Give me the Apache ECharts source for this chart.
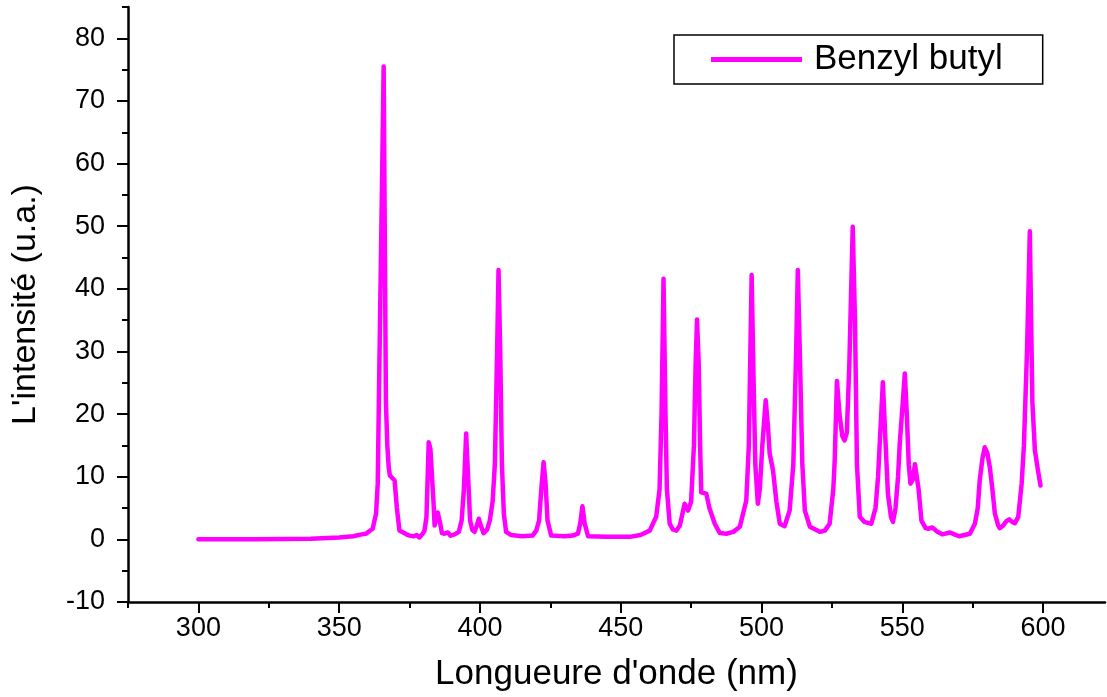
<!DOCTYPE html>
<html>
<head>
<meta charset="utf-8">
<script src="https://cdn.jsdelivr.net/npm/echarts@6/dist/echarts.min.js"></script>
<style>
  html, body { margin: 0; padding: 0; background: #fff; }
  #chart { width: 1107px; height: 697px; }
</style>
</head>
<body>
<div id="chart"></div>
<script>
// Emission spectrum of benzyl butyl: wavelength (nm) and intensity (a.u.)
const wavelengths = [
  300, 320, 340, 350, 355, 358, 359.5, 361.9, 363.1, 363.7, 364.1, 365.0, 365.8,
  366.6, 367.1, 367.6, 368.0, 368.6, 369.7, 370.5, 371.4, 373.9, 375.0, 376.5, 377.5, 378.5, 379.5,
  380.3, 381.0, 381.8, 382.4, 383.0, 383.5, 383.9, 384.5, 385.0, 385.4, 385.9, 386.5, 387.4, 388.6,
  389.5, 391.0, 392.5, 393.5, 394.3, 395.1, 395.8, 396.5, 397.3, 398.1, 398.9, 399.6, 400.3, 401.3,
  402.5, 403.5, 404.5, 405.3, 406.1, 406.6, 407.2, 407.8, 408.5, 409.3, 411, 415, 418.7, 420, 421,
  421.8, 422.6, 423.3, 424, 425.3, 430, 433, 434.8, 435.6, 436.4, 437.2, 438.4, 445, 453.2, 457,
  460.3, 462.6, 463.8, 464.5, 465.2, 465.9, 466.4, 467.4, 468.5, 469.8, 471, 472.7, 473.9, 475,
  476, 476.6, 477.1, 477.7, 478.2, 478.6, 480.4, 481.5, 483.4, 485.2, 487.5, 490, 492.3, 494.6,
  495.5, 496.5, 497.2, 497.8, 498.7, 499.4, 500.3, 501.5, 502.3, 502.9, 504.1, 505.3, 506.5, 508.2,
  510, 511.3, 512.3, 512.9, 513.6, 514.5, 515.4, 517.2, 520.7, 522.5, 524.2, 525.5, 526, 526.8,
  527.7, 528.7, 529.5, 530.3, 531.2, 532.4, 533.2, 533.9, 534.9, 536.5, 539, 540.5, 541.4, 542.3,
  543.1, 543.9, 544.9, 546, 546.7, 547.6, 548.5, 549.1, 550.2, 550.9, 551.6, 552.3, 552.9, 553.7,
  554.5, 555.1, 555.8, 556.8, 558.3, 559.2, 560.7, 562.5, 564.2, 567, 568.5, 570.2, 574, 575.8,
  576.8, 577.5, 578.5, 579.3, 580.2, 581.1, 582, 582.9, 584, 584.6, 585.8, 587, 588, 589, 590,
  591.2, 592.4, 593.2, 594.3, 595.3, 596.2, 597.1, 598.2, 599.1
];
const intensities = [
  0, 0, 0.1, 0.3, 0.5, 0.8, 0.9, 1.7, 4.1, 8.9, 22, 50, 75.5,
  22, 15, 11.5, 10.2, 10.3, 9.4, 5, 1.4, 0.8, 0.6, 0.5, 0.7, 0.3, 0.8,
  1.4, 3.5, 15.5, 14.5, 14.2, 6, 2.2, 2.5, 4.3, 4.2, 2.5, 1, 0.9, 1.1,
  0.6, 0.8, 1.2, 3, 8, 16.9, 10, 3, 1.5, 1.2, 2.2, 3.3, 2.2, 1.0,
  1.5, 3, 6, 12, 30, 43, 30, 12, 4, 1.2, 0.7, 0.5, 0.6, 1.4, 3,
  8, 12.3, 9, 3, 0.6, 0.5, 0.6, 0.9, 2.5, 5.3, 2.5, 0.5, 0.4, 0.4, 0.7,
  1.4, 3.6, 8, 20, 41.6, 20, 8, 2.5, 1.6, 1.4, 2.2, 5.7, 4.6, 6,
  15, 28, 35.1, 28, 15, 7.5, 7.3, 5, 2.5, 1, 0.9, 1.2, 2.0, 6.2,
  15, 42.2, 25, 12, 5.7, 8, 15, 22.2, 18, 13.7, 11, 6, 2.5, 2.1,
  4.6, 12, 30, 43, 30, 12, 4.6, 2.0, 1.2, 1.4, 2.5, 8, 12.6, 25.3,
  20, 16.5, 15.8, 17, 28, 49.9, 35, 12, 3.6, 2.8, 2.5, 5, 10, 18,
  25.1, 17, 7.3, 3.5, 2.8, 5, 10, 15.3, 22, 26.5, 20, 12, 8.9, 9.5,
  12.0, 12.1, 8, 3.0, 1.8, 1.7, 1.9, 1.2, 0.8, 1.1, 0.8, 0.5, 0.9, 2.5,
  5, 9.4, 13, 14.7, 13.8, 11.5, 8, 4.1, 2.3, 1.8, 2.2, 2.9, 3.2, 2.8, 2.6,
  3.6, 8.9, 15, 30, 49.2, 22, 14.2, 11, 8.6
];

// Axis tick positions
const xMajorTicks = [300, 350, 400, 450, 500, 550, 600];
const xMinorTicks = [275, 325, 375, 425, 475, 525, 575];
const yMajorTicks = [-10, 0, 10, 20, 30, 40, 50, 60, 70, 80];
const yMinorTicks = [-5, 5, 15, 25, 35, 45, 55, 65, 75, 85];

const seriesName = 'Benzyl butyl';
const xTitle = "Longueure d'onde (nm)";
const yTitle = "L'intensité (u.a.)";

const points = wavelengths.map((w, i) => [w, intensities[i]]);

const FONT = "'Liberation Sans', Arial, Helvetica, sans-serif";
const ink = '#000';
const magenta = '#ff00ff';

const chart = echarts.init(document.getElementById('chart'), null, { renderer: 'canvas' });
chart.setOption({
  animation: false,
  backgroundColor: '#fff',
  grid: { left: 128, right: 2, top: 7, bottom: 95 },
  legend: {
    data: [{ name: seriesName, icon: 'rect' }],
    left: 674,
    top: 35,
    orient: 'horizontal',
    padding: [7, 40, 7, 37],
    itemWidth: 91,
    itemHeight: 5,
    borderColor: ink,
    borderWidth: 1.5,
    itemStyle: { color: magenta, borderWidth: 0 },
    textStyle: { fontFamily: FONT, fontSize: 35, color: ink, padding: [0, 0, 0, 7] }
  },
  xAxis: [
    {
      type: 'value', min: 275, max: 622, position: 'bottom',
      axisLine: { show: true, onZero: false, lineStyle: { color: ink, width: 2.5 } },
      axisTick: { show: true, customValues: xMajorTicks, length: 11, lineStyle: { color: ink, width: 2 } },
      axisLabel: { customValues: xMajorTicks, fontFamily: FONT, fontSize: 27, color: ink, margin: 13 },
      splitLine: { show: false },
      name: xTitle, nameLocation: 'middle', nameGap: 55,
      nameTextStyle: { fontFamily: FONT, fontSize: 35, color: ink }
    },
    {
      type: 'value', min: 275, max: 622, position: 'bottom',
      axisLine: { show: false, onZero: false },
      axisTick: { show: true, customValues: xMinorTicks, length: 6, lineStyle: { color: ink, width: 2 } },
      axisLabel: { show: false },
      splitLine: { show: false }
    }
  ],
  yAxis: [
    {
      type: 'value', min: -10, max: 85, position: 'left',
      axisLine: { show: true, onZero: false, lineStyle: { color: ink, width: 2.5 } },
      axisTick: { show: true, customValues: yMajorTicks, length: 11, lineStyle: { color: ink, width: 2 } },
      axisLabel: { customValues: yMajorTicks, fontFamily: FONT, fontSize: 27, color: ink, margin: 23 },
      splitLine: { show: false },
      name: yTitle, nameLocation: 'middle', nameGap: 85, nameRotate: 90,
      nameTextStyle: { fontFamily: FONT, fontSize: 34, color: ink }
    },
    {
      type: 'value', min: -10, max: 85, position: 'left',
      axisLine: { show: false, onZero: false },
      axisTick: { show: true, customValues: yMinorTicks, length: 6, lineStyle: { color: ink, width: 2 } },
      axisLabel: { show: false },
      splitLine: { show: false }
    }
  ],
  series: [
    {
      name: seriesName,
      type: 'line',
      xAxisIndex: 0,
      yAxisIndex: 0,
      data: points,
      showSymbol: false,
      symbol: 'none',
      smooth: false,
      color: magenta,
      lineStyle: { color: magenta, width: 4.5, cap: 'round', join: 'round' }
    }
  ]
});
</script>
</body>
</html>
